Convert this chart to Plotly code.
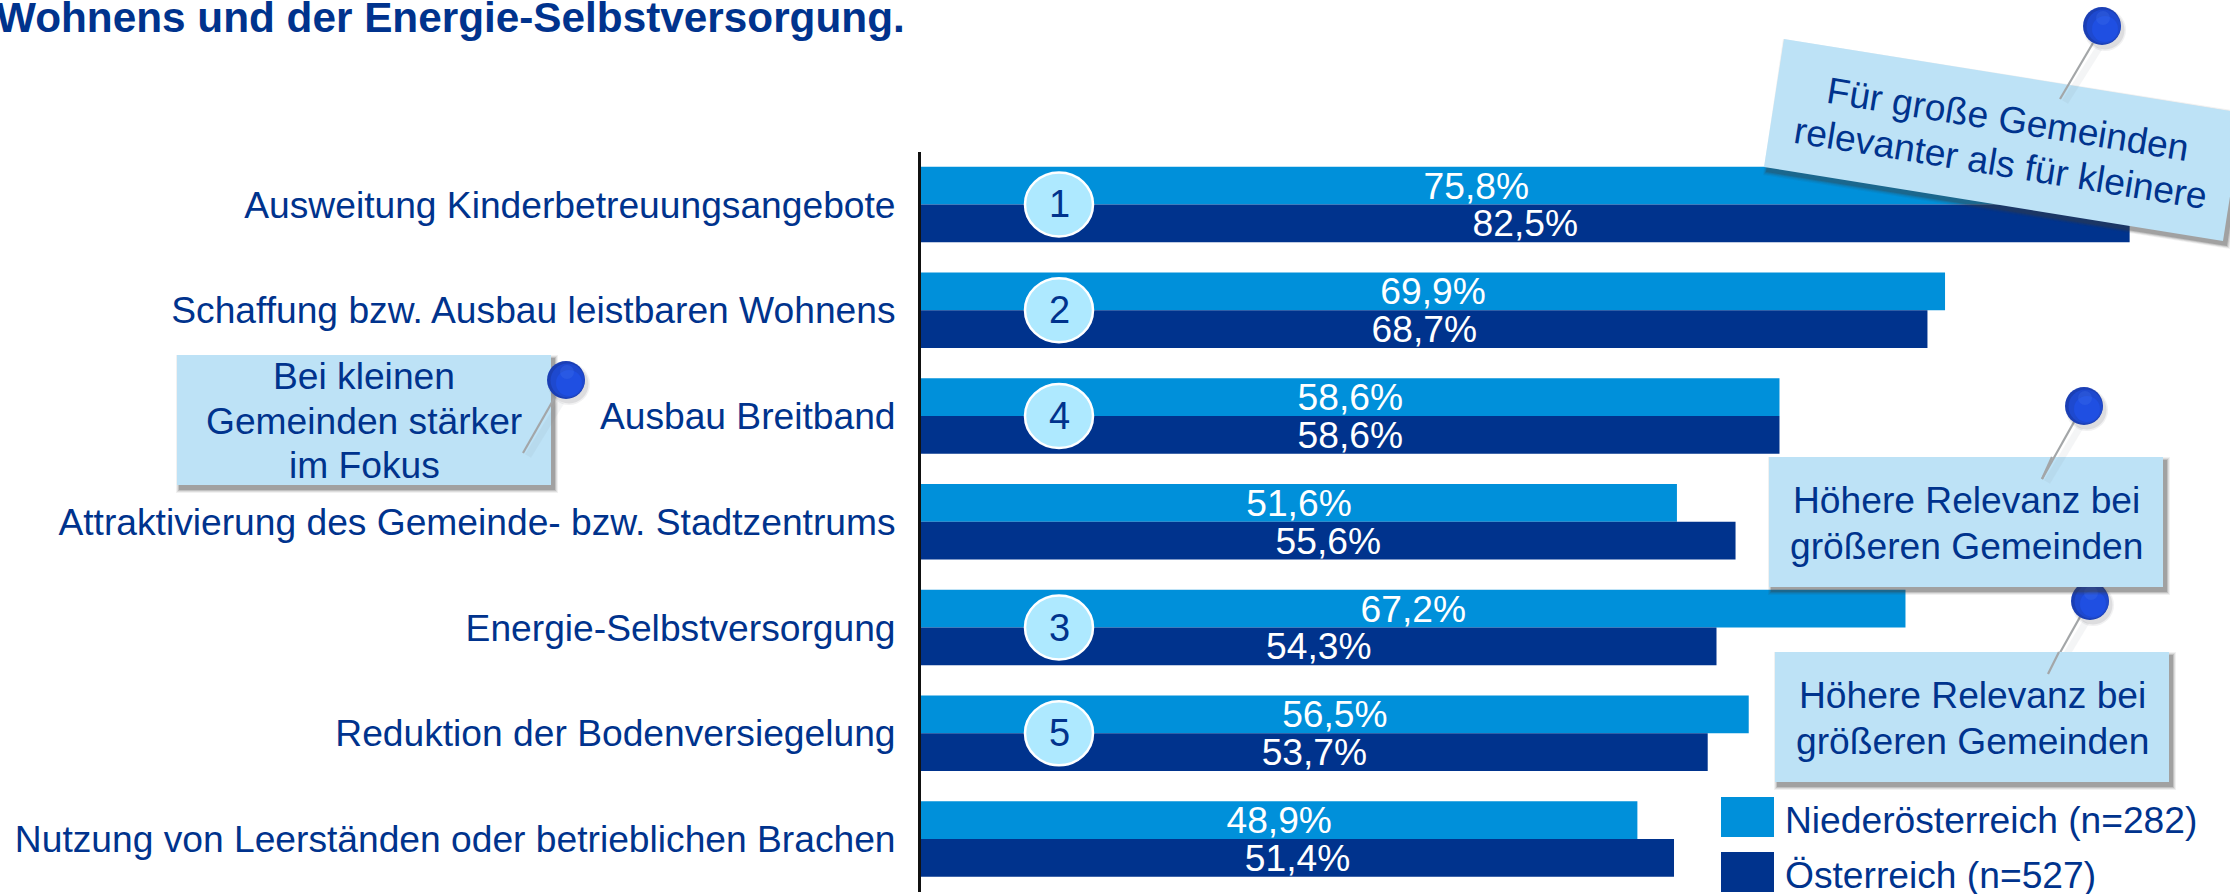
import plotly.graph_objects as go

W, H = 2230, 894

categories = [
    "Ausweitung Kinderbetreuungsangebote",
    "Schaffung bzw. Ausbau leistbaren Wohnens",
    "Ausbau Breitband",
    "Attraktivierung des Gemeinde- bzw. Stadtzentrums",
    "Energie-Selbstversorgung",
    "Reduktion der Bodenversiegelung",
    "Nutzung von Leerständen oder betrieblichen Brachen",
]
niederoesterreich = [75.8, 69.9, 58.6, 51.6, 67.2, 56.5, 48.9]
oesterreich = [82.5, 68.7, 58.6, 55.6, 54.3, 53.7, 51.4]
ranks = [1, 2, 4, None, 3, 5, None]
series_names = ["Niederösterreich (n=282)", "Österreich (n=527)"]
title_text = "Wohnens und der Energie-Selbstversorgung."

FONT = "Liberation Sans, Arial, sans-serif"
LIGHT = "#0090DA"
DARK = "#00338D"
NOTE = "#BDE2F6"
FS = 37.2


def px(x):
    return x / W


def py(y):
    return 1 - y / H


def fmt(v):
    return f"{v:.1f}".replace(".", ",") + "%"


fig = go.Figure()
for name, vals, col in [(series_names[0], niederoesterreich, LIGHT), (series_names[1], oesterreich, DARK)]:
    fig.add_bar(
        y=categories, x=vals, name=name, orientation="h",
        marker=dict(color=col, line=dict(width=0)),
        text=[fmt(v) for v in vals], textposition="inside", insidetextanchor="middle",
        constraintext="none", textangle=0, cliponaxis=False,
        textfont=dict(color="white", size=FS, family=FONT),
        hoverinfo="skip", showlegend=False,
    )

shapes = []
annos = []


def poly(pts, fill):
    path = "M " + " L ".join(f"{px(x):.5f},{py(y):.5f}" for x, y in pts) + " Z"
    shapes.append(dict(type="path", xref="paper", yref="paper", path=path, fillcolor=fill,
                       line=dict(width=0), layer="above"))


def circle(cx, cy, r, fill):
    shapes.append(dict(type="circle", xref="paper", yref="paper", x0=px(cx - r), x1=px(cx + r),
                       y0=py(cy + r), y1=py(cy - r), fillcolor=fill, line=dict(width=0), layer="above"))


def seg(x0, y0, x1, y1, color, width):
    shapes.append(dict(type="line", xref="paper", yref="paper", x0=px(x0), x1=px(x1), y0=py(y0), y1=py(y1),
                       line=dict(color=color, width=width), layer="above"))


def text(x, y, s, size=FS, color=DARK, anchor="center", angle=0, bold=False):
    annos.append(dict(xref="paper", yref="paper", x=px(x), y=py(y), text=f"<b>{s}</b>" if bold else s,
                      showarrow=False, xanchor=anchor, yanchor="middle", textangle=angle,
                      font=dict(family=FONT, size=size, color=color)))


def pin(cx, cy, lx0, ly0, lx1, ly1):
    # soft shadow of needle and head, needle, layered head
    seg(lx0 + 6, ly0 + 5, lx1 + 5, ly1 + 3, "rgba(120,130,140,0.08)", 7)
    seg(lx0, ly0, lx1, ly1, "#A3A6A8", 2.2)
    circle(cx + 3, cy + 4, 21, "rgba(80,80,90,0.08)")
    circle(cx + 3, cy + 4, 19.5, "rgba(80,80,90,0.12)")
    circle(cx, cy, 19, "#1B3FB4")
    circle(cx + 1.5, cy + 0.5, 17, "#1E49CF")
    circle(cx + 3, cy + 3, 13, "#1F4FE2")
    circle(cx + 1, cy - 8, 7, "rgba(70,120,235,0.25)")


def note(corners):
    cx = sum(p[0] for p in corners) / len(corners)
    cy = sum(p[1] for p in corners) / len(corners)
    for grow, alpha in [(4, 0.07), (3, 0.11), (2, 0.17), (1, 0.24)]:
        poly([(x + 3 + (grow if x > cx else -grow), y + 4 + (grow if y > cy else -grow)) for x, y in corners],
             f"rgba(60,60,60,{alpha})")
    poly(corners, NOTE)


# Circles with the rank numbers, placed through the chart's own axes
for i, (cat, r) in enumerate(zip(categories, ranks)):
    if r is None:
        continue
    shapes.append(dict(type="circle", xref="x", yref="y", xsizemode="pixel", ysizemode="pixel",
                       xanchor=9.42, yanchor=i, x0=-34, x1=34, y0=-32, y1=32,
                       fillcolor="#AEE9FF", line=dict(color="white", width=2.5), layer="above"))
    annos.append(dict(xref="x", yref="y", x=9.42, y=cat, text=str(r), showarrow=False,
                      font=dict(family=FONT, size=38, color=DARK)))

# Notes with pins, in drawing order
note([(1784, 39), (2243, 113), (2223, 241), (1764, 167)])
pin(2102, 26, 2093, 43, 2060, 99)
text(2008, 119, "Für große Gemeinden", angle=9.2)
text(2001, 163, "relevanter als für kleinere", angle=9.2)

note([(177, 355), (551, 355), (551, 485), (177, 485)])
pin(566, 380, 555, 397, 523, 453)
text(364, 376, "Bei kleinen")
text(364, 421, "Gemeinden stärker")
text(364, 465, "im Fokus")

pin(2090, 601, 2080, 617, 2048, 674)
note([(1775, 652), (2169, 652), (2169, 782), (1775, 782)])
seg(2059, 652, 2048, 674, "#A3A6A8", 2.2)
text(1972, 695, "Höhere Relevanz bei")
text(1972, 741, "größeren Gemeinden")

note([(1769, 457), (2163, 457), (2163, 587), (1769, 587)])
seg(2052, 457, 2042, 479, "#A3A6A8", 2.2)
pin(2084, 406, 2074, 422, 2042, 479)
text(1966, 500, "Höhere Relevanz bei")
text(1966, 546, "größeren Gemeinden")

# Legend
for (y0, y1, col, lab, ty) in [(797, 837, LIGHT, series_names[0], 820), (852, 892, DARK, series_names[1], 875)]:
    shapes.append(dict(type="rect", xref="paper", yref="paper", x0=px(1721), x1=px(1774), y0=py(y1), y1=py(y0),
                       fillcolor=col, line=dict(width=0), layer="above"))
    text(1783, ty, lab, anchor="left")

text(-6, 18, title_text, size=42.3, anchor="left", bold=True)

fig.update_layout(
    width=W, height=H, autosize=False,
    margin=dict(l=0, r=0, t=0, b=0),
    paper_bgcolor="white", plot_bgcolor="white",
    barmode="group", bargap=0.285, bargroupgap=0,
    showlegend=False,
    font=dict(family=FONT, color=DARK, size=FS),
    shapes=shapes, annotations=annos,
    xaxis=dict(domain=[921 / W, 1], range=[0, (W - 921) / 14.65], visible=False, fixedrange=True),
    yaxis=dict(domain=[1 - 891.9 / H, 1 - 151.6 / H], type="category", categoryorder="array", categoryarray=categories,
               range=[6.5, -0.5], showline=True, linecolor="#111111", linewidth=3, ticks="", ticklen=0,
               tickfont=dict(family=FONT, size=FS, color=DARK), ticklabelstandoff=15, showgrid=False,
               zeroline=False, fixedrange=True, automargin=False),
)

fig.write_html("out.html", config=dict(displayModeBar=False),
               post_script="document.body.style.margin='0';document.body.style.overflow='hidden';")
